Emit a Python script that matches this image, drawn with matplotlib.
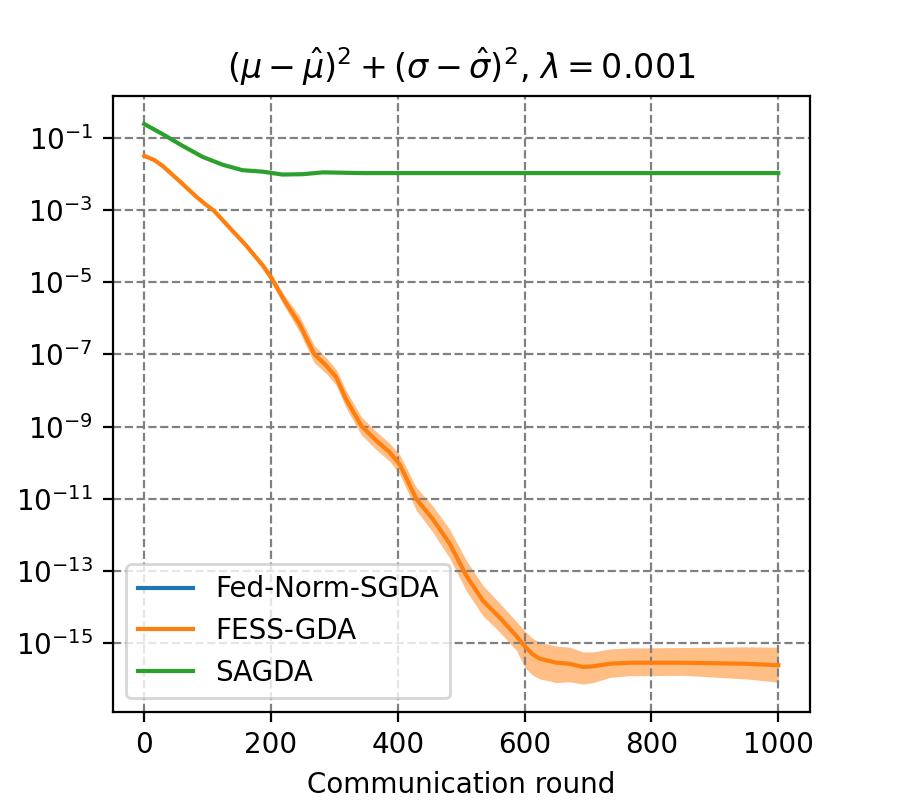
import numpy as np
import matplotlib
matplotlib.use("Agg")
import matplotlib.pyplot as plt
from matplotlib.ticker import NullLocator

# communication rounds where values were read
FESS_ROUNDS = [0, 16, 29, 55, 82, 97, 110, 134, 161, 187, 200, 221, 245, 268,
               287, 303, 318, 342, 366, 387, 403, 429, 455, 482, 508, 534, 560,
               587, 600, 612, 624, 650, 671, 692, 708, 734, 766, 850, 950, 1000]

# log10 of the FESS-GDA mean
FESS_LOG = [-1.50, -1.62, -1.78, -2.19, -2.63, -2.85, -3.02, -3.48, -3.99,
            -4.54, -4.87, -5.51, -6.16, -6.99, -7.31, -7.64, -8.23, -8.97,
            -9.39, -9.71, -10.05, -11.00, -11.56, -12.25, -13.13, -13.82,
            -14.28, -14.80, -15.08, -15.30, -15.43, -15.54, -15.57, -15.66,
            -15.64, -15.57, -15.54, -15.54, -15.57, -15.61]

# log10 of the upper / lower edge of the shaded band
FESS_HI_LOG = [-1.47, -1.59, -1.75, -2.16, -2.60, -2.82, -2.99, -3.45, -3.94,
               -4.46, -4.75, -5.36, -5.94, -6.75, -7.09, -7.42, -7.99, -8.72,
               -9.14, -9.46, -9.78, -10.68, -11.20, -11.85, -12.71, -13.40,
               -13.88, -14.40, -14.66, -14.86, -14.98, -15.08, -15.11, -15.24,
               -15.24, -15.16, -15.13, -15.12, -15.10, -15.11]
FESS_LO_LOG = [-1.53, -1.65, -1.81, -2.22, -2.66, -2.88, -3.05, -3.51, -4.04,
               -4.62, -4.99, -5.66, -6.38, -7.23, -7.53, -7.86, -8.47, -9.22,
               -9.64, -9.96, -10.32, -11.32, -11.92, -12.65, -13.55, -14.24,
               -14.68, -15.20, -15.66, -15.88, -15.99, -16.09, -16.07, -16.13,
               -16.09, -15.95, -15.90, -15.89, -15.99, -16.08]

SAGDA_ROUNDS = [0, 29, 60, 92, 124, 155, 187, 218, 250, 282, 345, 400, 500,
                600, 700, 800, 900, 1000]
SAGDA_LOG = [-0.62, -0.90, -1.22, -1.53, -1.75, -1.90, -1.94, -2.02, -2.01,
             -1.96, -1.98, -1.98, -1.98, -1.98, -1.98, -1.98, -1.98, -1.98]

# Fed-Norm-SGDA only shows up in the legend
FEDNORM_ROUNDS = []
FEDNORM_VALUES = []


def main():
    fig = plt.figure(figsize=(4.5, 4), dpi=200)

    fess = np.power(10.0, FESS_LOG)
    fess_hi = np.power(10.0, FESS_HI_LOG)
    fess_lo = np.power(10.0, FESS_LO_LOG)
    sagda = np.power(10.0, SAGDA_LOG)

    plt.plot(FEDNORM_ROUNDS, FEDNORM_VALUES, color="C0", label="Fed-Norm-SGDA")
    plt.plot(FESS_ROUNDS, fess, color="C1", label="FESS-GDA")
    plt.fill_between(FESS_ROUNDS, fess_lo, fess_hi, color="C1", alpha=0.5,
                     linewidth=0)
    plt.plot(SAGDA_ROUNDS, sagda, color="C2", label="SAGDA")

    plt.yscale("log")
    plt.gca().yaxis.set_minor_locator(NullLocator())
    plt.xlabel("Communication round")
    plt.title(r"$(\mu-\hat{\mu})^2+(\sigma-\hat{\sigma})^2$, $\lambda=0.001$")
    plt.grid(True, linestyle="--", color="gray")
    plt.legend(loc="lower left")

    fig.savefig("out.png")


if __name__ == "__main__":
    main()
